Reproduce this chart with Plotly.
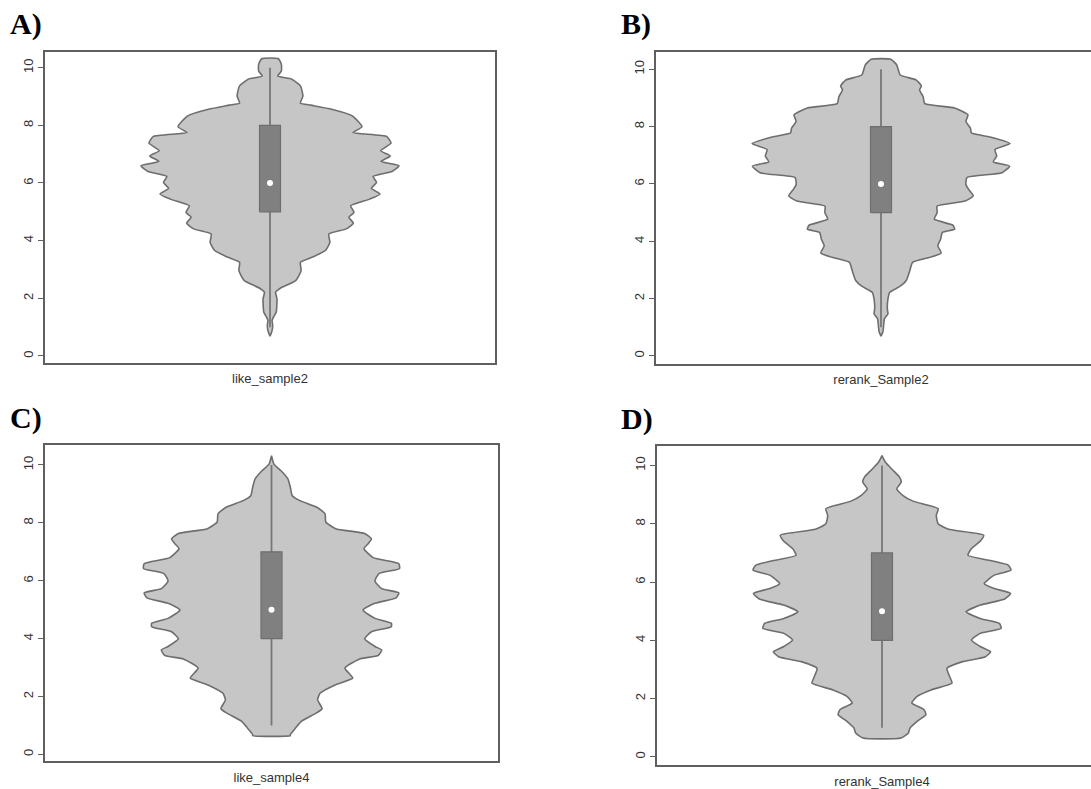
import plotly.graph_objects as go

# ---------------- data ----------------
LABELS = ["like_sample2", "rerank_Sample2", "like_sample4", "rerank_Sample4"]
PANEL_TAGS = ["A)", "B)", "C)", "D)"]

# violin outlines: y level and relative half-width (1 = widest point)
A_Y = [10.31, 10.12, 9.88, 9.71, 9.6, 9.37, 9.02, 8.77, 8.7, 8.56, 8.33, 7.95, 7.75, 7.61, 7.38,
       7.12, 6.94, 6.75, 6.6, 6.4, 6.23, 6.02, 5.81, 5.62, 5.44, 5.21, 4.98, 4.81, 4.61, 4.41,
       4.23, 3.94, 3.66, 3.43, 3.25, 2.96, 2.62, 2.35, 2.21, 1.98, 1.52, 1.35, 1.23, 1.06, 0.83, 0.69]
A_W = [0.065, 0.088, 0.088, 0.06, 0.169, 0.236, 0.255, 0.236, 0.316, 0.477, 0.638, 0.713, 0.643,
       0.906, 0.938, 0.858, 0.933, 0.861, 1.0, 0.946, 0.799, 0.826, 0.786, 0.853, 0.772, 0.625,
       0.651, 0.611, 0.646, 0.592, 0.456, 0.464, 0.429, 0.33, 0.236, 0.241, 0.201, 0.08, 0.043,
       0.054, 0.048, 0.027, 0.016, 0.021, 0.013, 0.0]

B_Y = [10.35, 10.15, 9.8, 9.63, 9.42, 9.28, 9.05, 8.8, 8.65, 8.41, 8.18, 7.95, 7.78, 7.64, 7.41,
       7.2, 6.97, 6.77, 6.62, 6.39, 6.22, 5.98, 5.81, 5.58, 5.4, 5.23, 5.0, 4.77, 4.56, 4.42,
       4.31, 4.07, 3.84, 3.59, 3.44, 3.26, 2.97, 2.63, 2.43, 2.22, 1.99, 1.64, 1.47, 1.3, 1.0,
       0.83, 0.69]
B_W = [0.076, 0.122, 0.149, 0.272, 0.313, 0.299, 0.326, 0.34, 0.571, 0.674, 0.658, 0.693, 0.701,
       0.842, 1.0, 0.883, 0.897, 0.87, 0.997, 0.9375, 0.666, 0.658, 0.679, 0.715, 0.652, 0.435,
       0.435, 0.413, 0.557, 0.571, 0.476, 0.462, 0.44, 0.467, 0.38, 0.245, 0.223, 0.196, 0.149,
       0.068, 0.054, 0.049, 0.054, 0.027, 0.019, 0.014, 0.0]

C_Y = [10.32, 10.03, 9.8, 9.52, 9.23, 8.94, 8.77, 8.54, 8.31, 8.03, 7.8, 7.63, 7.45, 7.28, 7.11,
       6.8, 6.59, 6.42, 6.25, 5.99, 5.73, 5.58, 5.41, 5.22, 4.99, 4.7, 4.53, 4.41, 4.24, 3.99,
       3.73, 3.61, 3.42, 3.3, 2.98, 2.64, 2.41, 2.12, 1.89, 1.58, 1.43, 1.15, 0.92, 0.69, 0.65]
C_W = [0.0, 0.019, 0.074, 0.127, 0.146, 0.161, 0.22, 0.352, 0.415, 0.421, 0.497, 0.722, 0.775,
       0.749, 0.717, 0.788, 0.987, 0.992, 0.833, 0.802, 0.854, 0.987, 0.966, 0.802, 0.709, 0.802,
       0.929, 0.929, 0.775, 0.722, 0.802, 0.854, 0.828, 0.683, 0.569, 0.63, 0.497, 0.378, 0.357,
       0.392, 0.347, 0.233, 0.188, 0.146, 0.146]

D_Y = [10.34, 10.11, 9.83, 9.6, 9.43, 9.2, 8.97, 8.77, 8.52, 8.29, 8.0, 7.81, 7.61, 7.4, 7.15,
       6.92, 6.75, 6.58, 6.41, 6.24, 5.95, 5.78, 5.61, 5.42, 5.21, 4.98, 4.75, 4.58, 4.41, 4.24,
       4.01, 3.79, 3.61, 3.44, 3.27, 3.04, 2.7, 2.53, 2.3, 2.08, 1.85, 1.62, 1.45, 1.22, 0.99,
       0.82, 0.65]
D_W = [0.0, 0.027, 0.087, 0.136, 0.149, 0.114, 0.163, 0.245, 0.435, 0.421, 0.435, 0.516, 0.788,
       0.761, 0.693, 0.666, 0.829, 0.978, 1.0, 0.87, 0.793, 0.87, 0.997, 0.951, 0.761, 0.652,
       0.761, 0.91, 0.924, 0.761, 0.693, 0.761, 0.842, 0.802, 0.625, 0.503, 0.53, 0.543, 0.38,
       0.272, 0.231, 0.326, 0.34, 0.272, 0.217, 0.204, 0.149]

BOX_Q1 = [5, 5, 4, 4]
BOX_Q3 = [8, 8, 7, 7]
MEDIANS = [6, 6, 5, 5]
WHISK_LO = [1, 1, 1, 1]
WHISK_HI = [10, 10, 10, 10]
Y_TICKS = [0, 2, 4, 6, 8, 10]

OUTLINES = [(A_Y, A_W), (B_Y, B_W), (C_Y, C_W), (D_Y, D_W)]

# ---------------- layout (pixels) ----------------
W, H = 1091, 789
PANELS = [
    dict(x0=45, x1=495, y0=52, y1=364, yr=[-0.23, 10.55]),
    dict(x0=656, x1=1106, y0=52, y1=365, yr=[-0.27, 10.61]),
    dict(x0=45, x1=498, y0=447, y1=764, yr=[-0.23, 10.68]),
    dict(x0=657, x1=1107, y0=448, y1=768, yr=[-0.28, 10.66]),
]
TAG_POS = [(8, 24), (619, 24), (8, 420), (619, 421)]
MAX_HALF_PX = 129
BOX_HALF_PX = 10.5

FILL = "#c6c6c6"
EDGE = "#6e6e6e"
BOXFILL = "#808080"
FRAME = "#5f5f5f"

fig = go.Figure()
layout = dict(width=W, height=H, margin=dict(l=0, r=0, t=0, b=0),
              paper_bgcolor="white", plot_bgcolor="white", showlegend=False)

annotations = []
for i, p in enumerate(PANELS):
    wpx = p["x1"] - p["x0"]
    xr = min(p["x1"], W)
    xs = "x" if i == 0 else f"x{i+1}"
    ys = "y" if i == 0 else f"y{i+1}"
    xa = "xaxis" if i == 0 else f"xaxis{i+1}"
    ya = "yaxis" if i == 0 else f"yaxis{i+1}"
    maxw = MAX_HALF_PX / wpx
    bw = BOX_HALF_PX / wpx

    yv, wv = OUTLINES[i]
    px = [1 - maxw * w for w in wv] + [1 + maxw * w for w in reversed(wv)]
    py = list(yv) + list(reversed(yv))
    px.append(px[0]); py.append(py[0])
    fig.add_trace(go.Scatter(x=px, y=py, mode="lines", fill="toself", fillcolor=FILL,
                             line=dict(color=EDGE, width=1.6, shape="spline", smoothing=0.5),
                             xaxis=xs, yaxis=ys, hoverinfo="skip"))
    # whisker
    fig.add_trace(go.Scatter(x=[1, 1], y=[WHISK_LO[i], WHISK_HI[i]], mode="lines",
                             line=dict(color="#777777", width=1.8), xaxis=xs, yaxis=ys,
                             hoverinfo="skip"))
    # box
    q1, q3 = BOX_Q1[i], BOX_Q3[i]
    fig.add_trace(go.Scatter(x=[1 - bw, 1 + bw, 1 + bw, 1 - bw, 1 - bw], y=[q1, q1, q3, q3, q1],
                             mode="lines", fill="toself", fillcolor=BOXFILL,
                             line=dict(color=EDGE, width=1.2), xaxis=xs, yaxis=ys, hoverinfo="skip"))
    # median
    fig.add_trace(go.Scatter(x=[1], y=[MEDIANS[i]], mode="markers",
                             marker=dict(color="white", size=6, line=dict(width=0)),
                             xaxis=xs, yaxis=ys, hoverinfo="skip"))

    layout[xa] = dict(domain=[p["x0"] / W, xr / W], range=[0.5, 0.5 + (xr - p["x0"]) / wpx],
                      anchor=ys, showgrid=False, zeroline=False, showline=True, mirror=True,
                      linecolor=FRAME, linewidth=1.8, tickmode="array", tickvals=[1],
                      ticktext=[LABELS[i]], ticks="outside", ticklen=3, tickcolor="rgba(0,0,0,0)",
                      tickfont=dict(family="Liberation Sans, Arial", size=13, color="#333333"))
    layout[ya] = dict(domain=[1 - p["y1"] / H, 1 - p["y0"] / H], range=p["yr"], anchor=xs,
                      showgrid=False, zeroline=False, showline=True, mirror=(xr == p["x1"]),
                      linecolor=FRAME, linewidth=1.8, tickmode="array", tickvals=Y_TICKS,
                      ticks="outside", ticklen=5, tickcolor=FRAME, tickwidth=1, tickangle=-90,
                      tickfont=dict(family="Liberation Sans, Arial", size=13, color="#333333"))
    tx, ty = TAG_POS[i]
    annotations.append(dict(text=f"<b>{PANEL_TAGS[i]}</b>", xref="paper", yref="paper",
                            x=tx / W, y=1 - ty / H, xanchor="left", yanchor="middle",
                            showarrow=False,
                            font=dict(family="Liberation Serif, Times New Roman", size=30,
                                      color="black")))

layout["annotations"] = annotations
fig.update_layout(**layout)
fig.write_html("out.html")
